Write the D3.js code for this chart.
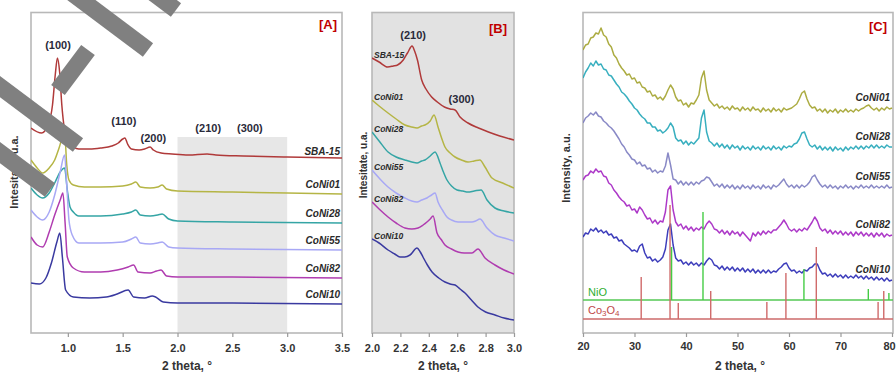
<!DOCTYPE html>
<html><head><meta charset="utf-8">
<script src="https://cdn.jsdelivr.net/npm/d3@7"></script>
<style>body{margin:0;background:#fff;} svg{display:block;font-family:"Liberation Sans",Arial,sans-serif;}</style>
</head><body><svg id="c" width="896" height="376"></svg>
<script>
// ---------------- DATA ----------------
const seriesNames = ["SBA-15","CoNi01","CoNi28","CoNi55","CoNi82","CoNi10"];
const seriesNamesC = ["CoNi01","CoNi28","CoNi55","CoNi82","CoNi10"];
const xTicksA = [1.0,1.5,2.0,2.5,3.0,3.5];
const xTicksB = [2.0,2.2,2.4,2.6,2.8,3.0];
const xTicksC = [20,30,40,50,60,70,80];
const peakLabelsA = [["(100)",0.91,288],["(110)",1.51,212],["(200)",1.78,195],["(210)",2.28,205],["(300)",2.66,205]];
const peakLabelsB = [["(210)",2.29,298],["(300)",2.63,234]];
const shadeRangeA = [2.0, 3.0, 196];

// Panel A: [2theta, intensity]
const aSBA15 = [[0.664,205],[0.76,200],[0.82,208],[0.86,228],[0.885,258],[0.905,275],[0.925,261],[0.945,228],[0.97,203],[1.0,191],[1.05,186],[1.1,184],[1.2,184],[1.3,185],[1.4,187],[1.46,190],[1.5,194],[1.52,195],[1.545,189],[1.58,184],[1.65,183],[1.7,184],[1.75,186],[1.78,183],[1.85,180],[1.95,179],[2.1,178],[2.27,179],[2.35,178],[2.6,177],[3.0,176],[3.5,175]];
const aCoNi01 = [[0.664,173],[0.72,165],[0.77,160],[0.83,165],[0.88,173],[0.92,185],[0.97,201],[0.99,168],[1.01,153],[1.05,148],[1.15,146],[1.3,146],[1.5,147],[1.58,149],[1.62,151],[1.66,146],[1.75,145],[1.82,146],[1.86,148],[1.9,144],[2.0,142],[2.5,141],[3.0,140],[3.5,139]];
const aCoNi28 = [[0.664,145],[0.72,138],[0.77,135],[0.83,140],[0.88,150],[0.93,161],[0.97,165],[0.995,143],[1.02,126],[1.05,121],[1.1,117],[1.3,117],[1.5,119],[1.58,121],[1.62,123],[1.66,118],[1.75,117],[1.82,118],[1.86,119],[1.92,114],[2.0,112],[2.5,111],[3.5,110]];
const aCoNi55 = [[0.664,123],[0.72,116],[0.77,113],[0.83,121],[0.88,138],[0.93,161],[0.97,178],[0.99,148],[1.01,113],[1.04,98],[1.1,90],[1.3,90],[1.5,91],[1.58,94],[1.62,96],[1.66,90],[1.75,89],[1.82,90],[1.86,91],[1.92,86],[2.0,85],[2.5,84],[3.5,83]];
const aCoNi82 = [[0.664,96],[0.72,88],[0.77,86],[0.83,101],[0.88,118],[0.93,133],[0.955,140],[0.975,110],[0.995,76],[1.05,65],[1.15,61],[1.3,61],[1.45,63],[1.55,66],[1.6,68],[1.64,61],[1.75,60],[1.81,62],[1.85,63],[1.9,57],[2.0,56],[2.5,56],[3.5,55]];
const aCoNi10 = [[0.664,50],[0.74,49],[0.8,55],[0.85,70],[0.9,91],[0.927,100],[0.95,76],[0.98,43],[1.05,36],[1.2,35],[1.35,36],[1.45,39],[1.55,43],[1.6,36],[1.7,35],[1.77,37],[1.8,36],[1.87,31],[2.0,30],[2.5,30],[3.5,29]];

// Panel B
const bSBA15 = [[2.0,275],[2.05,271],[2.11,266],[2.15,267],[2.18,268],[2.22,273],[2.25,280],[2.282,287],[2.3,282],[2.32,273],[2.35,253],[2.38,244],[2.42,236],[2.46,231],[2.51,226],[2.55,224],[2.585,223],[2.62,216],[2.676,210],[2.75,205],[2.82,201],[2.9,197],[3.0,193]];
const bCoNi01 = [[2.0,233],[2.05,227],[2.113,220],[2.17,214],[2.232,208],[2.28,206],[2.317,205],[2.35,207],[2.373,208],[2.41,212],[2.437,218],[2.465,206],[2.49,195],[2.514,186],[2.55,180],[2.585,176],[2.63,173],[2.676,171],[2.72,172],[2.76,173],[2.796,166],[2.845,155],[2.92,150],[3.0,145]];
const bCoNi28 = [[2.0,201],[2.05,192],[2.113,181],[2.17,176],[2.232,173],[2.28,171],[2.317,170],[2.35,172],[2.373,173],[2.41,177],[2.444,181],[2.479,170],[2.5,162],[2.528,153],[2.56,147],[2.599,143],[2.64,142],[2.676,141],[2.72,142],[2.768,143],[2.81,133],[2.866,125],[2.93,122],[3.0,120]];
const bCoNi55 = [[2.0,163],[2.05,155],[2.113,146],[2.17,140],[2.232,135],[2.28,132],[2.317,131],[2.35,133],[2.387,135],[2.42,138],[2.444,140],[2.465,131],[2.5,122],[2.528,116],[2.56,113],[2.606,111],[2.65,111],[2.704,111],[2.73,112],[2.76,114],[2.81,105],[2.866,98],[2.93,95],[3.0,92]];
const bCoNi82 = [[2.0,131],[2.05,124],[2.113,116],[2.17,110],[2.232,105],[2.28,104],[2.324,105],[2.36,108],[2.387,111],[2.41,114],[2.43,117],[2.458,100],[2.49,93],[2.514,88],[2.56,84],[2.606,81],[2.65,80],[2.704,80],[2.746,84],[2.796,75],[2.866,68],[2.93,63],[3.0,59]];
const bCoNi10 = [[2.0,94],[2.05,90],[2.113,83],[2.16,79],[2.197,76],[2.23,76],[2.268,78],[2.317,85],[2.34,81],[2.359,76],[2.39,68],[2.423,61],[2.47,55],[2.514,51],[2.55,49],[2.585,48],[2.62,44],[2.655,40],[2.7,33],[2.746,26],[2.8,21],[2.866,18],[2.93,15],[3.0,13]];

// Panel C: measured every 0.5 deg from 20 to 80
const cStep = 0.5, cStart = 20, cEnd = 80;
const cCoNi01 = [283,288,289,295,296,300,299,305,298,296, 289,286,278,275,269,265,262,258,259,254, 255,250,251,246,245,241,242,237,238,234, 236,233,237,243,248,244,236,232,233,228, 230,226,230,229,233,238,255,262,243,233, 230,227,229,225,227,224,226,223,227,224, 225,222,226,223,225,222,226,223,224,221, 225,222,224,221,225,222,224,221,225,223, 224,225,227,229,234,240,242,234,228,225, 226,222,224,221,224,220,223,221,224,220, 223,221,224,221,223,221,224,222,224,225, 227,228,225,223,225,222,225,223,226,224, 225];
const cCoNi28 = [255,261,265,270,267,272,268,269,264,263, 258,257,253,249,246,241,239,236,232,229, 225,223,219,216,214,210,210,206,206,202, 203,200,202,205,210,206,195,192,193,189, 192,188,191,189,192,195,215,223,201,192, 190,187,190,186,189,185,188,184,188,185, 187,183,187,184,186,183,187,184,186,183, 187,184,186,183,187,184,186,183,187,185, 187,186,189,190,194,200,201,194,188,186, 188,184,187,183,186,183,186,182,186,183, 185,182,186,183,186,184,187,184,187,184, 187,185,188,185,188,185,187,185,188,186, 186];
const cCoNi55 = [210,215,217,220,218,221,217,216,212,210, 207,205,202,198,194,189,186,181,178,174, 173,169,171,167,168,164,165,161,163,160, 162,161,167,180,168,154,153,149,152,148, 151,148,151,148,151,149,152,153,156,155, 151,147,149,146,149,145,148,145,148,144, 147,144,148,145,147,144,148,145,147,144, 148,145,147,144,148,146,148,151,154,149, 146,148,145,148,145,148,146,148,151,156, 158,153,149,146,148,145,148,145,147,144, 147,145,148,145,147,144,147,145,148,145, 147,145,148,145,147,145,147,145,148,145, 146];
const cCoNi82 = [153,157,158,162,160,164,161,162,157,156, 150,148,143,140,136,133,131,127,128,123, 124,120,126,123,118,114,115,110,113,109, 112,111,121,143,147,123,111,107,109,104, 107,103,106,102,105,103,106,104,109,112, 109,104,103,100,103,99,102,98,102,99, 101,97,101,98,95,92,100,97,101,98, 102,99,102,100,103,103,106,109,113,109, 104,102,104,101,104,102,105,103,107,111, 116,112,105,102,104,100,103,99,102,99, 102,98,101,98,101,97,101,98,101,97, 100,97,100,96,100,97,100,96,99,97, 98];
const cCoNi10 = [96,100,99,104,102,105,101,103,100,102, 98,99,95,96,92,93,89,87,85,82, 83,81,87,89,80,75,76,72,74,71, 73,76,84,103,109,88,75,72,73,69, 71,68,71,68,70,67,70,68,72,75, 73,68,67,64,67,63,66,63,66,62, 65,62,65,61,64,61,64,60,63,60, 63,60,63,60,62,61,64,66,69,70, 65,62,63,60,62,60,63,62,65,66, 69,69,63,59,60,57,59,56,59,56, 58,55,58,55,57,55,58,55,57,54, 57,54,56,53,56,53,55,52,55,52, 53];

// Reference patterns
const niOBase = 33, co3o4Base = 14;
const niOPos = [37.2, 43.3, 62.9, 75.4, 79.4];
const niOInt = [53, 88, 31, 11, 7];
const co3o4Pos = [31.3, 36.9, 38.5, 44.8, 55.7, 59.4, 65.3, 77.3, 78.4];
const co3o4Int = [42, 114, 16, 28, 17, 46, 72, 17, 28];

// ---------------- STYLE / LAYOUT ----------------
const colorsAB = ["#b03a3a","#b5b545","#35a5a5","#a8a8f5","#b03cb0","#3a3aa0"];
const colorsC = ["#a3a32e","#22a6b8","#7c7cc0","#a424c2","#2828b4"];
const plotTop = 12.5, plotBottom = 333;
const svg = d3.select("#c");
svg.append("rect").attr("width",896).attr("height",376).attr("fill","#fff");

const y = d3.scaleLinear().domain([0,320.5]).range([plotBottom, plotTop]);
const xA = d3.scaleLinear().domain([0.664,3.5]).range([31,342]);
const xB = d3.scaleLinear().domain([2.0,3.0]).range([372,514]);
const xC = d3.scaleLinear().domain([cStart,cEnd]).range([583,892]);

function clip(id, x0, x1){
  svg.append("clipPath").attr("id",id).append("rect").attr("x",x0).attr("y",plotTop).attr("width",x1-x0).attr("height",plotBottom-plotTop);
}
clip("clA",31,342); clip("clB",372,514); clip("clC",583,893);

function axis(x, ticks, fmt, pad){
  const g = svg.append("g").attr("transform",`translate(0,${plotBottom})`)
    .call(d3.axisBottom(x).tickValues(ticks).tickFormat(fmt).tickSize(4).tickPadding(pad));
  g.select(".domain").remove();
  g.selectAll(".tick line").attr("stroke","#9a9a9a").attr("stroke-width",1.2);
  g.selectAll(".tick text").attr("font-size",11).attr("font-weight","bold").attr("fill","#333").attr("font-family","Liberation Sans, Arial, sans-serif");
  return g;
}
function frame(x0,x1,fill){
  svg.append("rect").attr("x",x0).attr("y",plotTop).attr("width",x1-x0).attr("height",plotBottom-plotTop)
    .attr("fill",fill||"none").attr("stroke","#b8b8b8").attr("stroke-width",1.6);
}
function txt(t,x,yy,opt){
  const e = svg.append("text").attr("x",x).attr("y",yy).text(t)
    .attr("font-size",opt.size||11).attr("font-weight",opt.weight||"bold")
    .attr("font-style",opt.style||"normal").attr("fill",opt.fill||"#333")
    .attr("text-anchor",opt.anchor||"middle").attr("dominant-baseline","central");
  if(opt.rotate) e.attr("transform",`rotate(-90,${x},${yy})`);
  return e;
}

// ---------- Panel A ----------
svg.append("rect").attr("x",xA(shadeRangeA[0])).attr("y",y(shadeRangeA[2]))
  .attr("width",xA(shadeRangeA[1])-xA(shadeRangeA[0])).attr("height",plotBottom-y(shadeRangeA[2])).attr("fill","#e7e7e7");
frame(31,342);
const lineA = d3.line().x(d=>xA(d[0])).y(d=>y(d[1])).curve(d3.curveMonotoneX);
const seriesA = [aSBA15,aCoNi01,aCoNi28,aCoNi55,aCoNi82,aCoNi10];
const gA = svg.append("g").attr("clip-path","url(#clA)");
seriesA.forEach((s,i)=>gA.append("path").attr("d",lineA(s)).attr("fill","none").attr("stroke",colorsAB[i]).attr("stroke-width",1.5));
seriesA.forEach((s,i)=>txt(seriesNames[i],340,y(s[s.length-1][1]+(i===0?7:10)),{size:10,style:"italic",anchor:"end",fill:"#2a2a2a"}));
peakLabelsA.forEach(p=>txt(p[0],xA(p[1]),y(p[2]),{size:11,fill:"#2a2a3a"}));
axis(xA,xTicksA,d3.format(".1f"),7);
txt("2 theta, °",187,366,{size:12});
txt("Intesitate, u.a.",14,172,{size:11,rotate:true});
txt("[A]",328,24,{size:13,fill:"#c00000"});

// ---------- Panel B ----------
frame(372,514,"#e2e2e2");
const lineB = d3.line().x(d=>xB(d[0])).y(d=>y(d[1])).curve(d3.curveMonotoneX);
const seriesB = [bSBA15,bCoNi01,bCoNi28,bCoNi55,bCoNi82,bCoNi10];
const gB = svg.append("g").attr("clip-path","url(#clB)");
seriesB.forEach((s,i)=>gB.append("path").attr("d",lineB(s)).attr("fill","none").attr("stroke",colorsAB[i]).attr("stroke-width",1.5));
seriesB.forEach((s,i)=>txt(seriesNames[i],374,y(s[0][1]+3),{size:8.5,style:"italic",anchor:"start",fill:"#2a2a2a"}));
peakLabelsB.forEach(p=>txt(p[0],xB(p[1]),y(p[2]),{size:11,fill:"#2a2a3a"}));
axis(xB,xTicksB,d3.format(".1f"),7);
txt("2 theta, °",443,366,{size:12});
txt("Intesitate, u.a.",363,165,{size:10,rotate:true});
txt("[B]",498,28,{size:13,fill:"#c00000"});

// ---------- Panel C ----------
frame(583,893);
const xsC = d3.range(cStart, cEnd + cStep/2, cStep);
const seriesC = [cCoNi01,cCoNi28,cCoNi55,cCoNi82,cCoNi10];
const lineC = d3.line().x((d,i)=>xC(xsC[i])).y(d=>y(d));
const gC = svg.append("g").attr("clip-path","url(#clC)");
seriesC.forEach((s,i)=>gC.append("path").attr("d",lineC(s)).attr("fill","none").attr("stroke",colorsC[i]).attr("stroke-width",1.5).attr("stroke-opacity",0.9).attr("stroke-linejoin","round"));
// reference sticks
gC.append("line").attr("x1",583).attr("x2",893).attr("y1",y(niOBase)).attr("y2",y(niOBase)).attr("stroke","#55c855").attr("stroke-width",1.5);
gC.append("line").attr("x1",583).attr("x2",893).attr("y1",y(co3o4Base)).attr("y2",y(co3o4Base)).attr("stroke","#cc6a6a").attr("stroke-width",1.5);
co3o4Pos.forEach((p,i)=>gC.append("line").attr("x1",xC(p)).attr("x2",xC(p)).attr("y1",y(co3o4Base)).attr("y2",y(co3o4Base+co3o4Int[i])).attr("stroke","#d06a6a").attr("stroke-width",1.4));
niOPos.forEach((p,i)=>gC.append("line").attr("x1",xC(p)).attr("x2",xC(p)).attr("y1",y(niOBase)).attr("y2",y(niOBase+niOInt[i])).attr("stroke","#44cc44").attr("stroke-width",1.4));
seriesC.forEach((s,i)=>txt(seriesNamesC[i],890,y(s[s.length-1]+11),{size:10,style:"italic",anchor:"end",fill:"#2a2a2a"}));
txt("NiO",588,y(niOBase+8),{size:11,weight:"normal",anchor:"start",fill:"#2fae2f"});
const co = txt("",588,y(co3o4Base+9),{size:11,weight:"normal",anchor:"start",fill:"#c04848"});
co.append("tspan").text("Co");
co.append("tspan").text("3").attr("font-size",8).attr("dy",3);
co.append("tspan").text("O").attr("dy",-3);
co.append("tspan").text("4").attr("font-size",8).attr("dy",3);
const axC = axis(xC,xTicksC,d3.format("d"),5);
axC.selectAll(".tick text").filter(d=>d===80).attr("dx",-3);
txt("2 theta, °",740,366,{size:12});
txt("Intensity, a.u.",566,168,{size:11,rotate:true});
txt("[C]",878,26,{size:13,fill:"#c00000"});

// ---------- overlay bars (decoration on top) ----------
const overlayBars = [[28,-40,148,50],[96,-50,176,10],[88,50,58,90],[-26,67,78,145],[-30,130,50,190]];
overlayBars.forEach(b=>svg.append("line").attr("x1",b[0]).attr("y1",b[1]).attr("x2",b[2]).attr("y2",b[3])
  .attr("stroke","#808080").attr("stroke-width",17));
</script></body></html>
